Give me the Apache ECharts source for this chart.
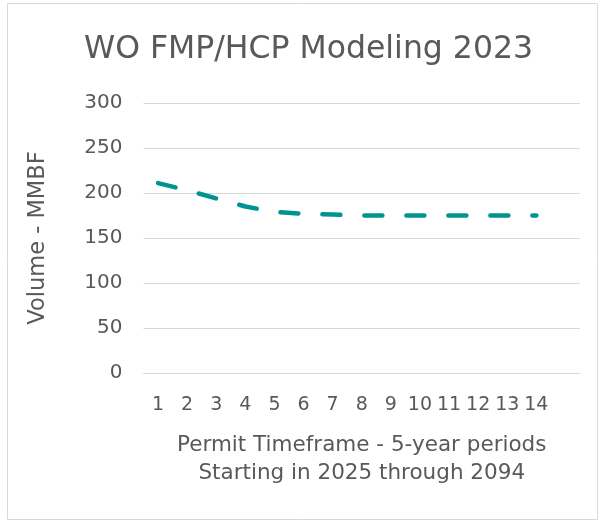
<!DOCTYPE html>
<html><head><meta charset="utf-8">
<script src="https://cdn.jsdelivr.net/npm/echarts@6/dist/echarts.min.js"></script>
<style>html,body{margin:0;padding:0;background:#fff}#c{width:600px;height:524px}</style>
</head><body><div id="c"></div>
<script>
const categories = ['1','2','3','4','5','6','7','8','9','10','11','12','13','14',''];
const volume = [211, 203, 194, 185, 179, 177, 176, 175, 175, 175, 175, 175, 175, 175, null];
const yTicks = {min: 0, max: 300, interval: 50};
const titleText = 'WO FMP/HCP Modeling 2023';
const yName = 'Volume - MMBF';
const xName = 'Permit Timeframe - 5-year periods\nStarting in 2025 through 2094';

const chart = echarts.init(document.getElementById('c'));
const txt = '#595959';
const ff = '"DejaVu Sans", sans-serif';
chart.setOption({
  animation: false,
  textStyle: {fontFamily: ff},
  graphic: [{
    type: 'rect', shape: {x: 7.5, y: 3.5, width: 590, height: 516},
    style: {fill: 'none', stroke: '#d9d9d9', lineWidth: 1}, silent: true
  }],
  title: {
    text: titleText, left: 79, top: 29,
    textStyle: {color: txt, fontSize: 31.5, fontWeight: 'normal', fontFamily: ff}
  },
  grid: {left: 143.5, right: 20, top: 103, bottom: 151},
  xAxis: {
    type: 'category', data: categories, boundaryGap: true,
    axisLine: {show: true, lineStyle: {color: '#d9d9d9'}},
    axisTick: {show: false},
    axisLabel: {color: txt, fontSize: 19, margin: 23, interval: 0},
    name: xName, nameLocation: 'middle', nameGap: 58,
    nameTextStyle: {color: txt, fontSize: 21.5, lineHeight: 28}
  },
  yAxis: {
    type: 'value', min: yTicks.min, max: yTicks.max, interval: yTicks.interval,
    axisLine: {show: false}, axisTick: {show: false},
    splitLine: {lineStyle: {color: '#d9d9d9', width: 1}},
    axisLabel: {color: txt, fontSize: 20, margin: 21},
    name: yName, nameLocation: 'middle', nameGap: 94, nameRotate: 90,
    nameTextStyle: {color: txt, fontSize: 22.5}
  },
  series: [{
    type: 'line', data: volume, showSymbol: false, smooth: false,
    lineStyle: {color: '#009490', width: 4.5, type: [18, 24], cap: 'round'}
  }]
});
</script></body></html>
